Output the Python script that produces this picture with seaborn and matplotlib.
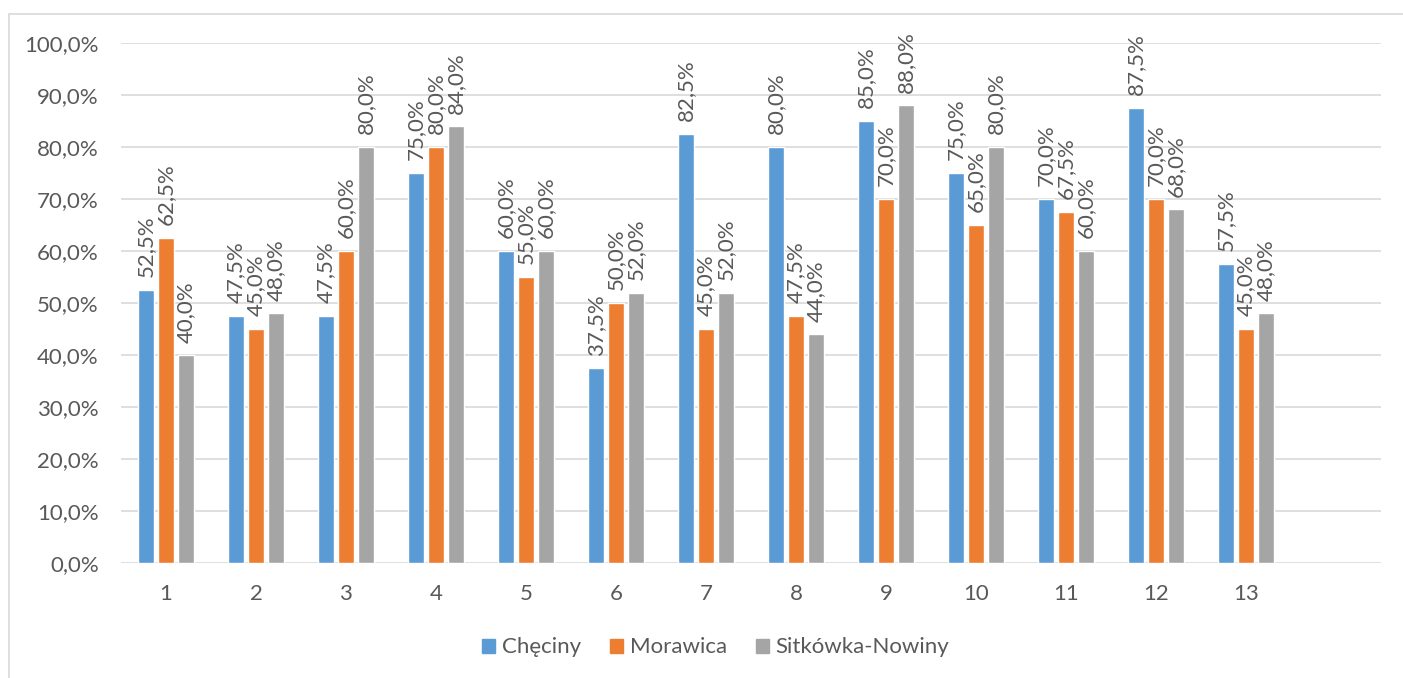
import matplotlib
matplotlib.use("Agg")
import matplotlib.pyplot as plt
from matplotlib.patches import Rectangle
import pandas as pd
import seaborn as sns

# values (percent)
questions = [str(i) for i in range(1, 14)]
checiny = [52.5, 47.5, 47.5, 75.0, 60.0, 37.5, 82.5, 80.0, 85.0, 75.0, 70.0, 87.5, 57.5]
morawica = [62.5, 45.0, 60.0, 80.0, 55.0, 50.0, 45.0, 47.5, 70.0, 65.0, 67.5, 70.0, 45.0]
sitkowka = [40.0, 48.0, 80.0, 84.0, 60.0, 52.0, 52.0, 44.0, 88.0, 80.0, 60.0, 68.0, 48.0]
series_names = ["Chęciny", "Morawica", "Sitkówka-Nowiny"]
colors = ["#5b9bd5", "#ed7d31", "#a5a5a5"]
yticks = list(range(0, 101, 10))

df = pd.DataFrame({
    "pytanie": questions * 3,
    "gmina": [series_names[0]] * 13 + [series_names[1]] * 13 + [series_names[2]] * 13,
    "wynik": checiny + morawica + sitkowka,
})

sns.set_theme(style="white")
plt.rcParams["font.family"] = ["Lato", "DejaVu Sans"]
text_col = "#595959"
fs = 16

fig = plt.figure(figsize=(14.03, 6.78), dpi=100)
ax = fig.add_axes([0.0862, 0.1696, 0.8981, 0.767])

sns.barplot(data=df, x="pytanie", y="wynik", hue="gmina", order=questions,
            hue_order=series_names, palette=colors, width=0.667, gap=0.2,
            saturation=1, errorbar=None, ax=ax)

# data labels
for cont, vals in zip(ax.containers, [checiny, morawica, sitkowka]):
    labs = [f"{v:.1f}%".replace(".", ",") for v in vals]
    ax.bar_label(cont, labels=labs, rotation=90, padding=9,
                 fontsize=fs, color=text_col)

ax.set_xlim(-0.5, 13.5)
ax.set_ylim(0, 100)
ax.set_yticks(yticks)
ax.set_yticklabels([f"{t:.1f}%".replace(".", ",") for t in yticks])
ax.grid(axis="y", color="#d9d9d9", linewidth=1.2)
ax.set_axisbelow(True)
for s in ax.spines.values():
    s.set_visible(False)
ax.tick_params(axis="both", length=0, labelsize=fs, labelcolor=text_col)
ax.tick_params(axis="y", pad=16)
ax.tick_params(axis="x", pad=15)
ax.set_xlabel("")
ax.set_ylabel("")

ax.get_legend().remove()
handles = [Rectangle((0, 0), 1, 1, color=c) for c in colors]
fig.legend(handles, series_names, loc="center", bbox_to_anchor=(0.51, 0.045),
           ncol=3, frameon=False, fontsize=fs, labelcolor=text_col,
           handlelength=0.6, handleheight=0.6, handletextpad=0.3, columnspacing=1.3)

# light chart frame
fig.patches.append(Rectangle((9 / 1403, -0.1), 1.2, 1 - 14 / 678 + 0.1,
                             transform=fig.transFigure, fill=False,
                             edgecolor="#d9d9d9", linewidth=1.2))

fig.savefig("out.png", dpi=100)
